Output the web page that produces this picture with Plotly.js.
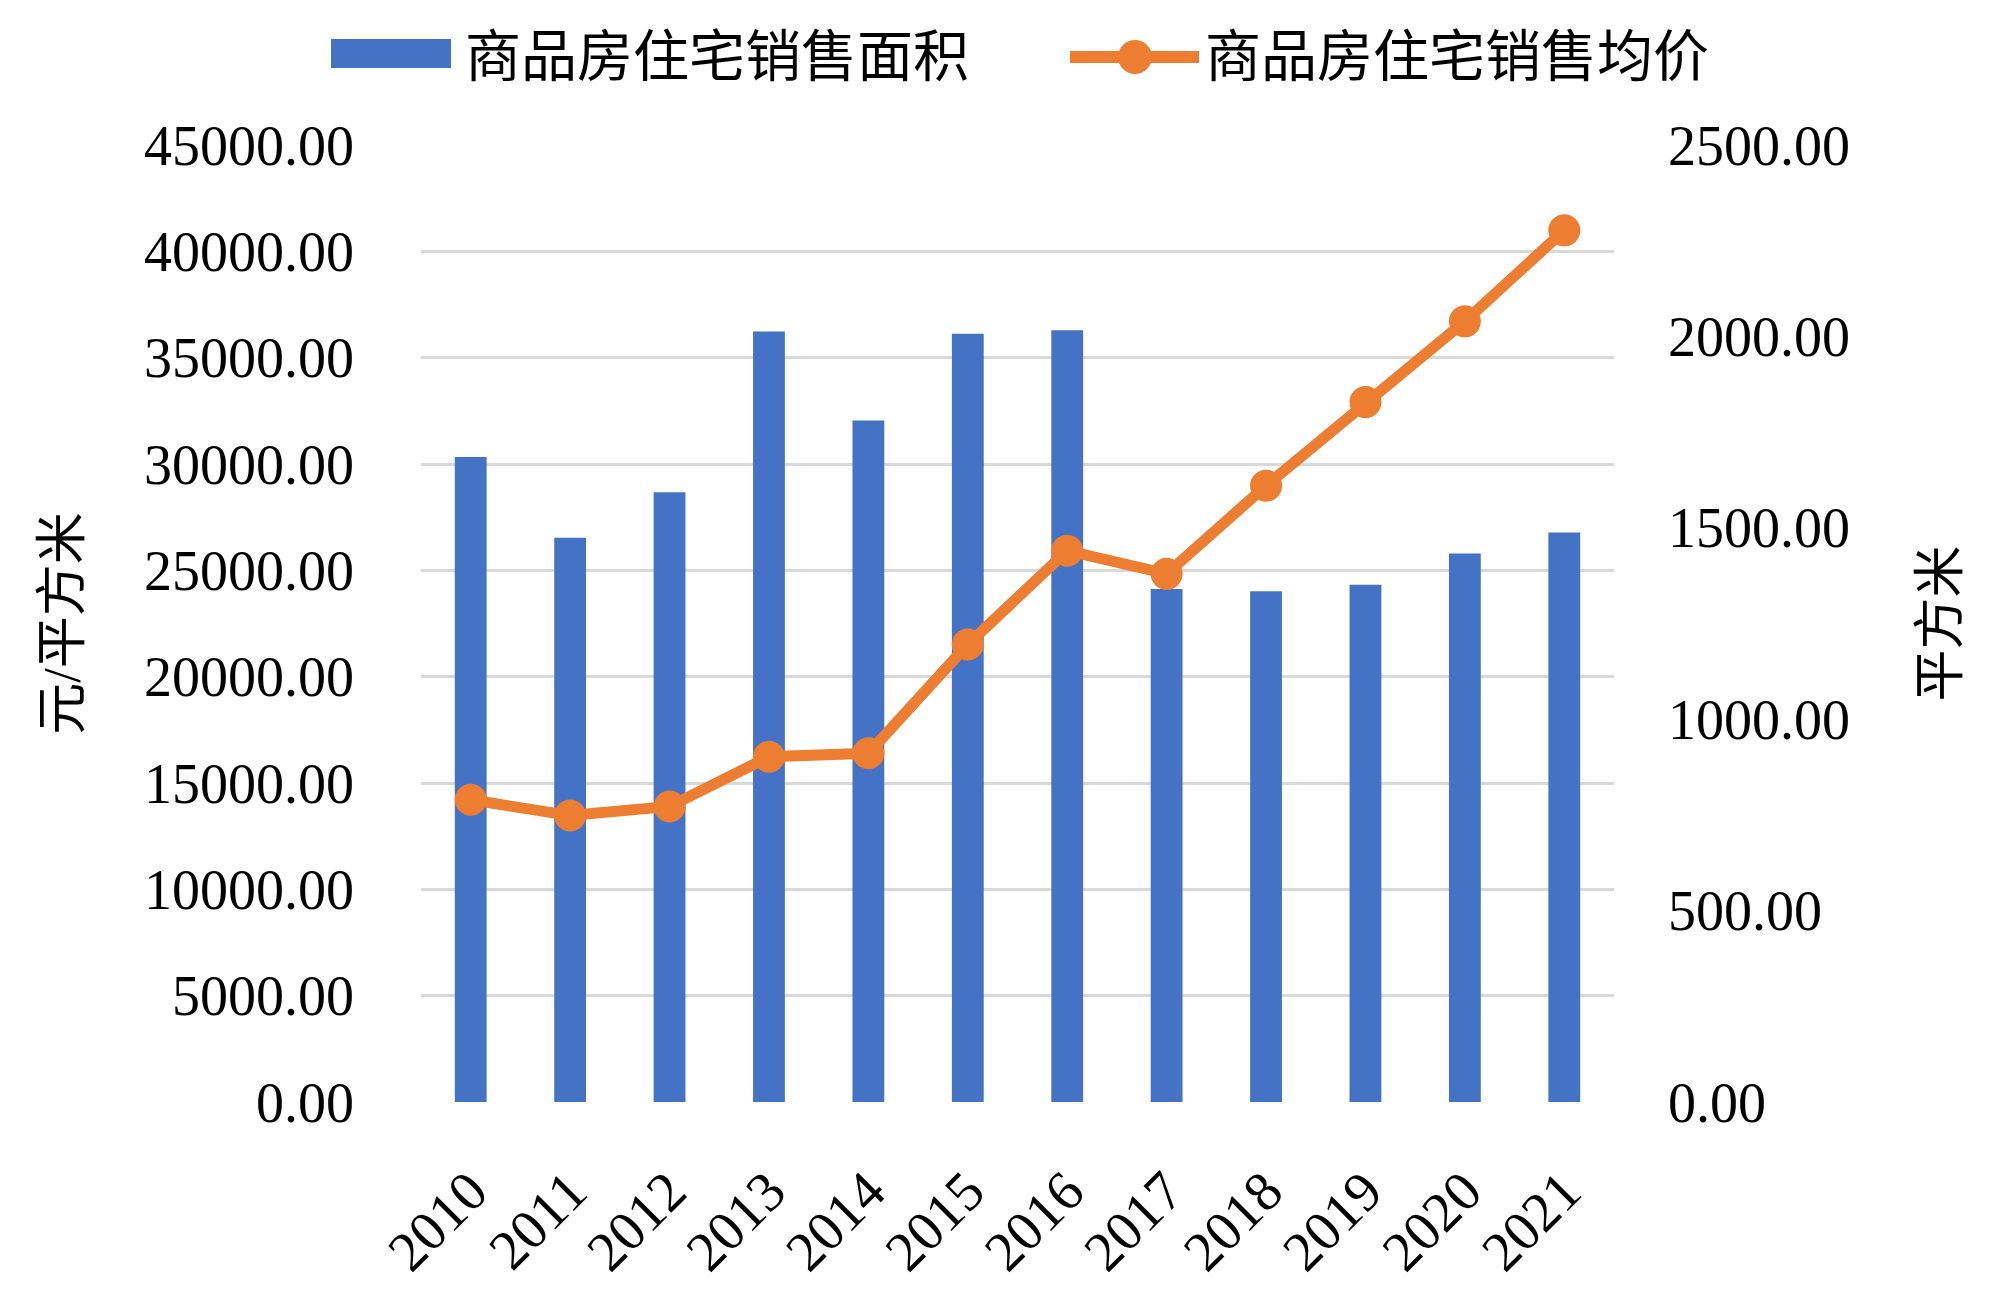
<!DOCTYPE html>
<html>
<head>
<meta charset="utf-8">
<script src="https://cdn.plot.ly/plotly-3.0.1.min.js"></script>
<style>html,body{margin:0;padding:0;background:#fff;}</style>
</head>
<body>
<div id="chart" style="width:2000px;height:1304px;"></div>
<script>
// ---- data ----
const years = ['2010','2011','2012','2013','2014','2015','2016','2017','2018','2019','2020','2021'];
const salesArea = [1685, 1474, 1593, 2013, 1780, 2007, 2016, 1340, 1334, 1351, 1433, 1488];
const avgPrice = [14210, 13469, 13897, 16234, 16399, 21514, 25922, 24835, 28980, 32910, 36708, 40987];
const areaName = '商品房住宅销售面积';
const priceName = '商品房住宅销售均价';
const priceAxisTitle = '元/平方米';
const areaAxisTitle = '平方米';

// ---- layout constants ----
const W = 2000, H = 1304;
const M = {l: 421, r: 386, t: 145, b: 202};
const pw = W - M.l - M.r, ph = H - M.t - M.b;
const px = v => (v - M.l) / pw;
const py = v => (H - M.b - v) / ph;

const BLUE = '#4472C4', ORANGE = '#ED7D31';
const numFont = 'Liberation Serif, Times New Roman, serif';
const cjkFont = 'Liberation Serif, Noto Sans CJK SC, serif';

const traces = [
  {
    type: 'bar', x: years, y: salesArea, name: areaName,
    yaxis: 'y', marker: {color: BLUE}, showlegend: false, hoverinfo: 'x+y'
  },
  {
    type: 'scatter', mode: 'lines+markers', x: years, y: avgPrice, name: priceName,
    yaxis: 'y2', line: {color: ORANGE, width: 11}, marker: {color: ORANGE, size: 32},
    showlegend: false, hoverinfo: 'x+y'
  }
];

const legY = 57;
const layout = {
  width: W, height: H,
  margin: M,
  paper_bgcolor: '#fff', plot_bgcolor: 'rgba(0,0,0,0)',
  bargap: 0.68,
  showlegend: false,
  font: {family: numFont, color: '#000', size: 56},
  xaxis: {
    type: 'category', range: [-0.5, years.length - 0.5], autorange: false,
    tickangle: -45, showgrid: false, zeroline: false,
    showline: false, ticks: '', ticklabelstandoff: 44,
    tickfont: {family: numFont, size: 56, color: '#000'}
  },
  yaxis: {
    side: 'right', range: [0, 2500], dtick: 500, tick0: 0, tickformat: '.2f',
    showgrid: false, zeroline: false, showline: false, ticks: '',
    ticklabelstandoff: 53,
    tickfont: {family: numFont, size: 56, color: '#000'},
    title: {text: areaAxisTitle, standoff: 72, font: {family: cjkFont, size: 52, color: '#000'}}
  },
  yaxis2: {
    overlaying: 'y', side: 'left', range: [0, 45000], dtick: 5000, tick0: 0, tickformat: '.2f',
    showgrid: true, gridcolor: '#D9D9D9', gridwidth: 3, zeroline: false, showline: false, ticks: '',
    ticklabelstandoff: 66,
    tickfont: {family: numFont, size: 56, color: '#000'},
    title: {text: priceAxisTitle, standoff: 46, font: {family: cjkFont, size: 52, color: '#000'}}
  },
  shapes: [
    {type: 'rect', xref: 'paper', yref: 'paper', x0: px(331), x1: px(451), y0: py(68), y1: py(39),
     fillcolor: BLUE, line: {width: 0}},
    {type: 'line', xref: 'paper', yref: 'paper', x0: px(1070), x1: px(1199), y0: py(legY), y1: py(legY),
     line: {color: ORANGE, width: 12}},
    {type: 'circle', xref: 'paper', yref: 'paper', x0: px(1135 - 17), x1: px(1135 + 17),
     y0: py(legY + 17), y1: py(legY - 17), fillcolor: ORANGE, line: {width: 0}}
  ],
  annotations: [
    {xref: 'paper', yref: 'paper', x: px(463), y: py(legY), xanchor: 'left', yanchor: 'middle',
     text: areaName, showarrow: false, font: {family: cjkFont, size: 56, color: '#000'}},
    {xref: 'paper', yref: 'paper', x: px(1203), y: py(legY), xanchor: 'left', yanchor: 'middle',
     text: priceName, showarrow: false, font: {family: cjkFont, size: 56, color: '#000'}}
  ]
};

Plotly.newPlot('chart', traces, layout, {displayModeBar: false, staticPlot: true});
</script>
</body>
</html>
